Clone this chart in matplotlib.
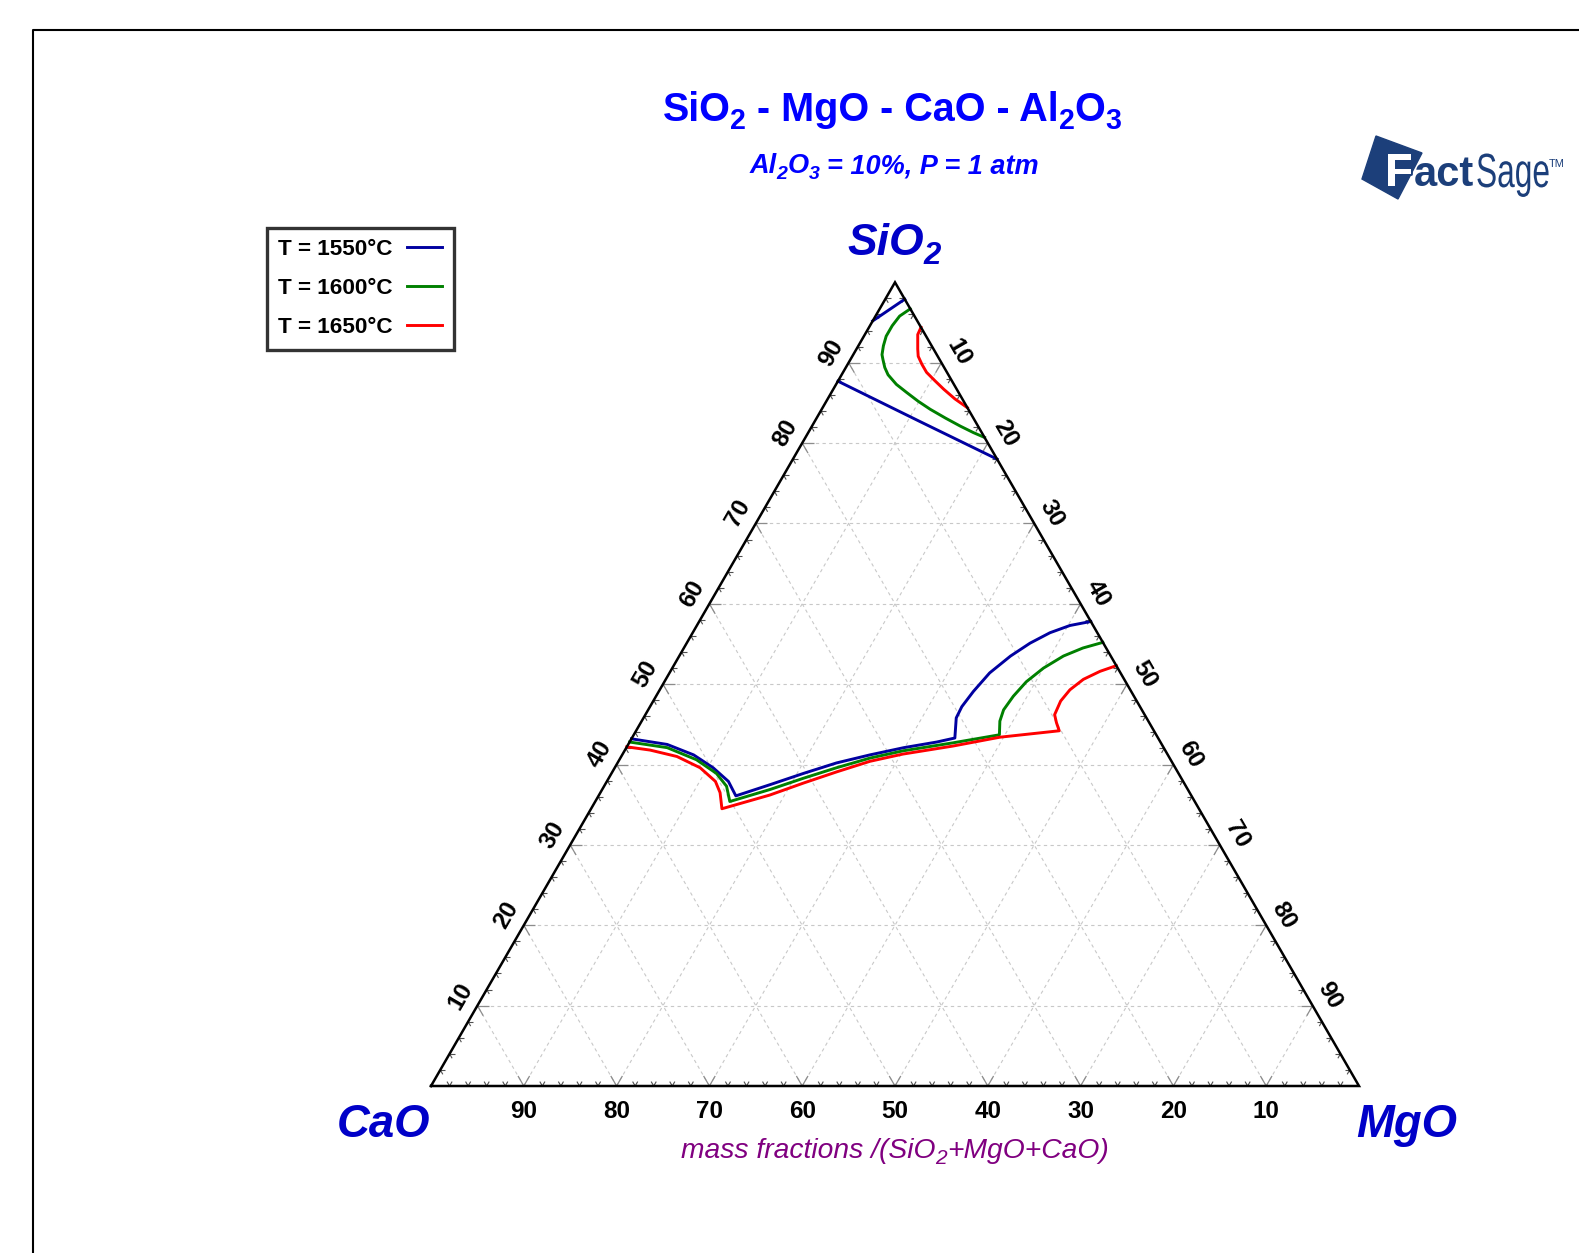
import numpy as np
import matplotlib
matplotlib.use('Agg')
import matplotlib.pyplot as plt
from matplotlib.patches import Polygon, PathPatch
from matplotlib.lines import Line2D
from matplotlib.collections import LineCollection
from matplotlib.textpath import TextPath
from matplotlib.font_manager import FontProperties
from matplotlib.transforms import Affine2D, IdentityTransform
import matplotlib.patheffects as pe

plt.rcParams['font.family'] = ['Liberation Sans', 'DejaVu Sans']

# liquidus lines, wt% SiO2 and MgO (CaO is the balance)
labels = ['T = 1550°C', 'T = 1600°C', 'T = 1650°C']
colors = ['#0000a0', '#008000', '#ff0000']

sio2_1550_a = [95.2, 97.9]
mgo_1550_a = [0.0, 2.1]
sio2_1550_b = [87.7, 82.7, 78.0]
mgo_1550_b = [0.0, 11.3, 22.0]
sio2_1550_c = [43.2, 42.5, 41.2, 39.6, 37.9, 36.1, 37.5, 38.9, 40.2, 41.2, 42.1,
               42.8, 43.3, 45.8, 47.2, 49.1, 51.4, 53.5, 55.1, 56.4, 57.3, 57.8]
mgo_1550_c = [0.0, 4.2, 7.7, 10.6, 13.1, 14.8, 17.8, 20.7, 23.6, 26.7, 29.9,
              33.1, 34.8, 33.7, 33.6, 33.9, 34.5, 35.7, 37.0, 38.5, 40.2, 42.2]

sio2_1600_a = [96.7, 95.8, 94.6, 93.3, 92.1, 91.0, 90.4, 89.4, 88.5, 87.3, 86.3,
               85.2, 84.2, 83.1, 82.1, 81.3, 80.7]
mgo_1600_a = [3.3, 2.6, 2.4, 2.4, 2.7, 3.1, 3.5, 4.2, 5.0, 6.5, 8.1,
              9.9, 11.7, 13.9, 16.0, 17.8, 19.3]
sio2_1600_b = [42.8, 42.1, 40.6, 38.9, 37.3, 35.4, 36.9, 38.3, 39.6, 40.8, 41.7,
               42.7, 43.7, 45.4, 46.8, 48.5, 50.3, 52.0, 53.5, 54.5, 55.2]
mgo_1600_b = [0.0, 4.4, 8.3, 11.3, 13.2, 14.5, 18.1, 21.0, 23.9, 26.9, 30.0,
              34.9, 39.4, 38.6, 38.3, 38.5, 39.0, 40.0, 41.4, 43.0, 44.8]

sio2_1650_a = [94.4, 93.5, 92.7, 91.7, 90.8, 89.8, 88.8, 87.7, 86.7, 85.5, 84.4]
mgo_1650_a = [5.6, 5.7, 6.1, 6.6, 7.1, 8.0, 9.0, 10.5, 11.9, 13.7, 15.6]
sio2_1650_b = [42.2, 41.8, 41.0, 39.6, 37.9, 36.5, 34.5, 36.2, 37.7, 39.1, 40.4,
               41.3, 42.3, 43.4, 44.2, 45.2, 46.2, 47.9, 49.3, 50.6, 51.6, 52.3]
mgo_1650_b = [0.0, 2.7, 6.0, 9.2, 11.7, 12.9, 14.1, 18.4, 21.3, 24.2, 27.1,
              30.2, 35.1, 39.6, 45.6, 44.8, 44.1, 43.9, 44.2, 45.0, 46.3, 47.7]

curves = [
    [(sio2_1550_a, mgo_1550_a), (sio2_1550_b, mgo_1550_b), (sio2_1550_c, mgo_1550_c)],
    [(sio2_1600_a, mgo_1600_a), (sio2_1600_b, mgo_1600_b)],
    [(sio2_1650_a, mgo_1650_a), (sio2_1650_b, mgo_1650_b)],
]

bottom_ticks = [90, 80, 70, 60, 50, 40, 30, 20, 10]   # CaO
left_ticks = [10, 20, 30, 40, 50, 60, 70, 80, 90]     # SiO2
right_ticks = [10, 20, 30, 40, 50, 60, 70, 80, 90]    # MgO

H3 = np.sqrt(3) / 2


def tern(s, m):
    s = np.asarray(s, float) / 100
    m = np.asarray(m, float) / 100
    return m + s / 2, s * H3


W, H = 1579, 1253
fig = plt.figure(figsize=(W / 100, H / 100), dpi=100)
renderer = fig.canvas.get_renderer()
ax = fig.add_axes([0, 0, 1, 1])
side = 928.0
x0, y0 = 431, H - 1086
ax.set_xlim(-x0 / side, (W - x0) / side)
ax.set_ylim(-y0 / side, (H - y0) / side)
ax.axis('off')


def fp(x, y):
    return x / W, 1 - y / H


def advance(s, fs, **kw):
    a = fig.text(0, 0, 'H' + s + 'H', fontsize=fs, **kw)
    b = fig.text(0, 0, 'HH', fontsize=fs, **kw)
    w = a.get_window_extent(renderer).width - b.get_window_extent(renderer).width
    a.remove()
    b.remove()
    return w


def formula(xc, yb, parts, size, sub=0.72, drop=0.21, **kw):
    # parts: (text, is_subscript); xc = centre, yb = baseline, pixels from top
    x = 0
    placed = []
    for s, is_sub in parts:
        fs = size * sub if is_sub else size
        lead = len(s) - len(s.lstrip(' '))
        xd = x + (advance(' ' * lead, fs, **kw) if lead else 0)
        placed.append((s.strip(' '), fs, xd, is_sub))
        x += advance(s, fs, **kw)
    xs = xc - x / 2
    for s, fs, xd, is_sub in placed:
        y = H - yb - (drop * size * 100 / 72 if is_sub else 0)
        fig.text(xs + xd, y, s, fontsize=fs, ha='left', va='baseline',
                 transform=IdentityTransform(), **kw)


# outer frame
fig.add_artist(Line2D([fp(33, 0)[0], fp(33, 0)[0], 1.0], [0.0, fp(0, 30)[1], fp(0, 30)[1]],
                      transform=fig.transFigure, color='black', lw=1.5))

# grid lines every 10%
for v in np.arange(10, 100, 10):
    for s, m in [([v, v], [0, 100 - v]), ([0, 100 - v], [v, v]), ([0, 100 - v], [100 - v, 0])]:
        gx, gy = tern(s, m)
        ax.plot(gx, gy, color='#c8c8c8', lw=0.8, ls=(0, (3, 3)), zorder=1)

# edge ticks every 2%
minor, major = [], []
for k in range(2, 100, 2):
    f = k / 100
    L = 0.0125 if k % 10 == 0 else 0.0055
    pts = [((f, 0.0), [(0.5, H3), (-0.5, H3)]),
           ((f / 2, f * H3), [(1, 0), (0.5, -H3)]),
           ((1 - f / 2, f * H3), [(-1, 0), (-0.5, -H3)])]
    for (px, py), dirs in pts:
        for dx, dy in dirs:
            seg = [(px, py), (px + L * dx, py + L * dy)]
            (major if k % 10 == 0 else minor).append(seg)
ax.add_collection(LineCollection(minor, colors='#505050', linewidths=0.8, zorder=2))
ax.add_collection(LineCollection(major, colors='#8c8c8c', linewidths=0.9, zorder=2))

# triangle outline
ax.plot([0, 1, 0.5, 0], [0, 0, H3, 0], color='black', lw=1.8, zorder=4,
        solid_joinstyle='miter')

# liquidus curves
for lab, col, segs in zip(labels, colors, curves):
    for i, (s, m) in enumerate(segs):
        cx, cy = tern(s, m)
        ax.plot(cx, cy, color=col, lw=2.1, zorder=3, label=lab if i == 0 else None)

# tick labels
tk = dict(fontsize=17.5, fontweight='bold', ha='center', va='center', rotation_mode='anchor')
for c in bottom_ticks:
    ax.text(1 - c / 100, -0.027, str(c), **tk)
off = 0.0215
for s in left_ticks:
    lx, ly = tern(s, 0)
    ax.text(lx - off * H3, ly + off * 0.5, str(s), rotation=60, **tk)
for m in right_ticks:
    rx, ry = tern(100 - m, m)
    ax.text(rx + off * H3, ry + off * 0.5, str(m), rotation=-60, **tk)

# component names
comp = dict(fontweight='bold', style='italic', color='#0000c8')
formula(894, 255, [('SiO', False), ('2', True)], 32, sub=0.7, **comp)
fig.text(*fp(384, 1137), 'CaO', fontsize=32.8, ha='center', va='baseline', **comp)
fig.text(*fp(1407, 1137), 'MgO', fontsize=32.8, ha='center', va='baseline', **comp)

# titles
formula(892, 121, [('SiO', False), ('2', True), (' - MgO - CaO - Al', False), ('2', True),
                   ('O', False), ('3', True)], 28.5, fontweight='bold', color='#0000ff')
formula(894, 173, [('Al', False), ('2', True), ('O', False), ('3', True),
                   (' = 10%, P = 1 atm', False)], 19.5, fontweight='bold', style='italic',
        color='#0000ff')
formula(895, 1158, [('mass fractions /(SiO', False), ('2', True), ('+MgO+CaO)', False)],
        20.3, sub=0.74, drop=0.23, style='italic', color='#800080')

# legend
leg = ax.legend(loc='upper left', bbox_to_anchor=fp(267, 228), bbox_transform=fig.transFigure,
                markerfirst=False, frameon=True, fancybox=False, borderaxespad=0,
                prop={'weight': 'bold', 'size': 16.2}, handlelength=1.55,
                handletextpad=0.65, labelspacing=0.8, borderpad=0.5)
leg.get_frame().set_edgecolor('black')
leg.get_frame().set_linewidth(2.4)

# FactSage mark
navy = '#1c3f7a'
sq = [fp(1376, 136), fp(1422, 153), fp(1398, 199), fp(1362, 179)]
fig.add_artist(Polygon(sq, closed=True, transform=fig.transFigure, color=navy))
fig.text(*fp(1385, 186), 'F', fontsize=33, fontweight='bold', color='white',
         ha='left', va='baseline',
         path_effects=[pe.withStroke(linewidth=2, foreground=navy)])
fig.text(*fp(1414, 186), 'act', fontsize=30, fontweight='bold', color=navy,
         ha='left', va='baseline')
sage = TextPath((0, 0), 'Sage', size=48, prop=FontProperties(family='Liberation Sans'))
sage = Affine2D().scale(0.66, 1).translate(1476, H - 187).transform_path(sage)
fig.add_artist(PathPatch(sage, color=navy, lw=0, transform=IdentityTransform()))
fig.text(*fp(1549, 167), 'TM', fontsize=8, color=navy, ha='left', va='baseline')

fig.savefig('out.png', dpi=100)
